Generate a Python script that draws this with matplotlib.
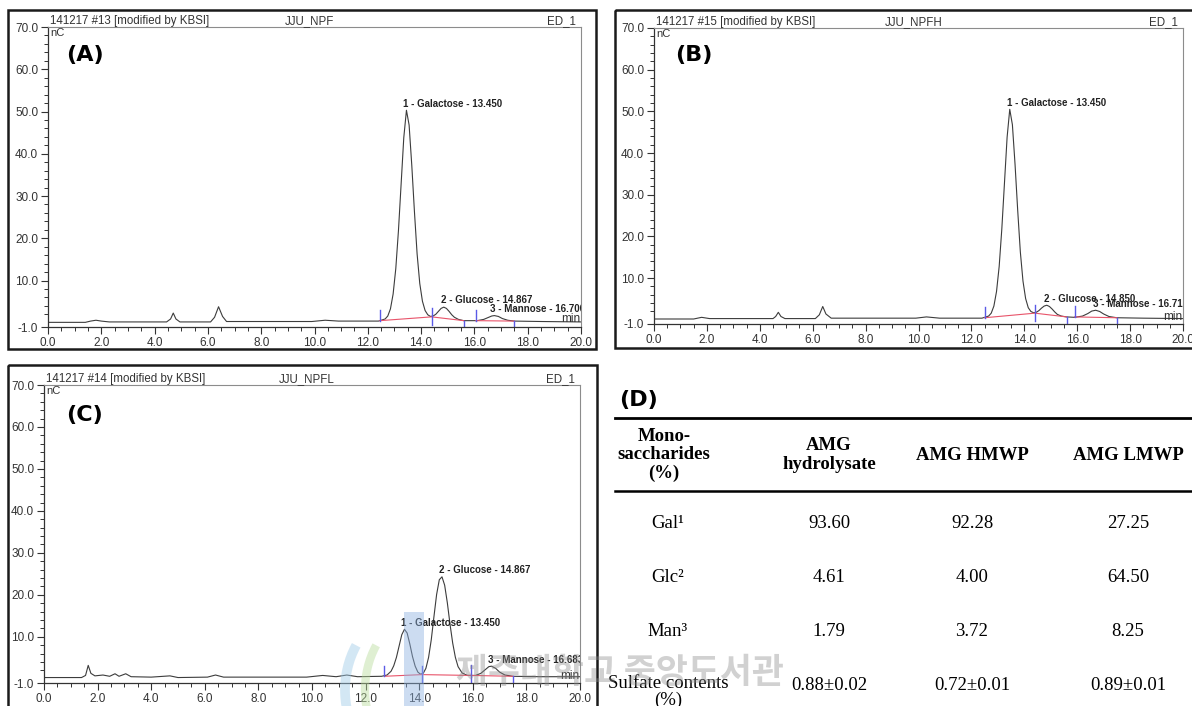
import matplotlib.pyplot as plt
from matplotlib.patches import Rectangle, Arc
from matplotlib.ticker import FixedLocator, MultipleLocator

W, H = 1192, 706

# ---- (A) JJU_NPF trace: retention time (min) / signal (nC) ----
npf_time = [0.0, 1.4, 1.6, 1.8, 2.0, 2.3, 4.45, 4.6, 4.7, 4.8, 4.95, 6.1, 6.25, 6.4,
            6.55, 6.7, 9.9, 10.4, 10.9, 12.4, 12.65, 12.75, 12.85, 12.95, 13.05, 13.15,
            13.25, 13.35, 13.45, 13.55, 13.65, 13.75, 13.85, 13.95, 14.05, 14.15, 14.25,
            14.35, 14.45, 14.55, 14.65, 14.75, 14.85, 14.95, 15.05, 15.15, 15.25, 15.4,
            15.6, 16.1, 16.35, 16.5, 16.65, 16.75, 16.9, 17.05, 17.25, 17.5, 18.5, 20.0]
npf_signal = [0.1, 0.1, 0.4, 0.6, 0.4, 0.2, 0.2, 0.9, 2.3, 0.9, 0.2, 0.2, 1.3, 3.8,
              1.5, 0.3, 0.3, 0.6, 0.4, 0.4, 0.9, 1.6, 3.3, 6.8, 12.8, 21.8,
              32.8, 43.8, 50.3, 46.8, 37.3, 26.3, 16.3, 9.3, 5.1, 2.9, 1.9,
              1.5, 1.6, 2.0, 2.7, 3.4, 3.7, 3.4, 2.7, 1.9, 1.3, 0.8,
              0.5, 0.5, 0.8, 1.2, 1.6, 1.7, 1.5, 1.0, 0.6, 0.4, 0.3, 0.2]
npf_labels = ['1 - Galactose - 13.450', '2 - Glucose - 14.867', '3 - Mannose - 16.700']
npf_peak_time = [13.450, 14.867, 16.700]
npf_peak_height = [50.3, 3.7, 1.7]
npf_baselines = [([12.45, 14.4, 15.6], [0.5, 1.4, 0.5]), ([16.05, 17.5], [0.5, 0.4])]

# ---- (B) JJU_NPFH ----
npfh_time = [0.0, 1.5, 1.8, 2.1, 4.5, 4.6, 4.7, 4.8, 4.95, 6.1, 6.25, 6.38, 6.5, 6.7,
             9.9, 10.3, 10.8, 12.4, 12.65, 12.75, 12.85, 12.95, 13.05, 13.15, 13.25,
             13.35, 13.45, 13.55, 13.65, 13.75, 13.85, 13.95, 14.05, 14.15, 14.25, 14.35,
             14.45, 14.55, 14.65, 14.75, 14.85, 14.95, 15.05, 15.15, 15.25, 15.4, 15.6,
             15.9, 16.2, 16.4, 16.55, 16.7, 16.85, 17.0, 17.2, 17.5, 18.5, 20.0]
npfh_signal = [0.2, 0.2, 0.6, 0.3, 0.3, 0.8, 1.8, 0.8, 0.3, 0.3, 1.2, 3.2, 1.4, 0.4,
               0.4, 0.7, 0.4, 0.4, 0.9, 1.6, 3.3, 6.8, 12.8, 21.8, 32.8,
               43.8, 50.5, 46.8, 37.3, 26.3, 16.3, 9.3, 5.1, 2.9, 2.0, 1.7,
               1.8, 2.2, 2.8, 3.3, 3.5, 3.2, 2.6, 1.9, 1.3, 0.9, 0.7,
               0.6, 0.9, 1.5, 2.1, 2.3, 2.0, 1.4, 0.8, 0.5, 0.4, 0.3]
npfh_labels = ['1 - Galactose - 13.450', '2 - Glucose - 14.850', '3 - Mannose - 16.717']
npfh_peak_time = [13.450, 14.850, 16.717]
npfh_peak_height = [50.5, 3.5, 2.3]
npfh_baselines = [([12.5, 14.4, 15.6], [0.5, 1.6, 0.7]), ([15.9, 17.5], [0.7, 0.5])]

# ---- (C) JJU_NPFL ----
npfl_time = [0.0, 1.4, 1.55, 1.65, 1.75, 1.9, 2.2, 2.45, 2.65, 2.8, 3.05, 3.25, 4.0,
             4.7, 5.0, 6.1, 6.4, 6.7, 9.8, 10.4, 10.9, 11.3, 11.7, 12.6, 12.8, 12.95,
             13.05, 13.15, 13.25, 13.35, 13.45, 13.55, 13.65, 13.75, 13.85, 13.95, 14.05,
             14.15, 14.25, 14.35, 14.45, 14.55, 14.65, 14.75, 14.85, 14.95, 15.05, 15.15,
             15.25, 15.35, 15.45, 15.6, 15.8, 16.1, 16.3, 16.45, 16.6, 16.7, 16.85, 17.0,
             17.2, 17.5, 18.5, 20.0]
npfl_signal = [0.3, 0.3, 0.8, 3.2, 1.3, 0.7, 0.9, 0.6, 1.2, 0.6, 1.2, 0.5, 0.4,
               0.7, 0.3, 0.4, 0.9, 0.4, 0.4, 0.8, 0.5, 0.9, 0.5, 0.6, 0.9, 1.8,
               3.1, 5.1, 7.8, 10.5, 11.8, 10.9, 8.3, 5.3, 3.0, 1.6, 1.1,
               1.3, 2.5, 5.1, 9.3, 14.8, 20.1, 23.6, 24.3, 22.3, 18.1, 13.0,
               8.5, 5.1, 2.9, 1.4, 0.8, 0.8, 1.3, 2.1, 2.9, 3.0, 2.5, 1.6,
               0.9, 0.6, 0.5, 0.5]
npfl_labels = ['1 - Galactose - 13.450', '2 - Glucose - 14.867', '3 - Mannose - 16.683']
npfl_peak_time = [13.450, 14.867, 16.683]
npfl_peak_height = [11.8, 24.3, 3.0]
npfl_baselines = [([12.7, 14.1, 15.95], [0.6, 1.0, 0.8]), ([15.95, 17.5], [0.8, 0.6])]

# ---- (D) table ----
table_header = ['Mono-\nsaccharides\n(%)', 'AMG\nhydrolysate', 'AMG HMWP', 'AMG LMWP']
row_names = ['Gal¹', 'Glc²', 'Man³', 'Sulfate contents\n(%)']
amg_hydrolysate = ['93.60', '4.61', '1.79', '0.88±0.02']
amg_hmwp = ['92.28', '4.00', '3.72', '0.72±0.01']
amg_lmwp = ['27.25', '64.50', '8.25', '0.89±0.01']

y_ticks = [-1, 10, 20, 30, 40, 50, 60, 70]

plt.rcParams['font.family'] = ['Liberation Sans', 'DejaVu Sans']

fig = plt.figure(figsize=(W / 100, H / 100), dpi=100)


def px_axes(left, top, right, bottom):
    return fig.add_axes([left / W, 1 - bottom / H, (right - left) / W, (bottom - top) / H])


def draw_chrom(rect, time, signal, labels, peak_t, peak_h, baselines, run, sample):
    ax = px_axes(*rect)
    ax.plot(time, signal, color='#3c3c3c', lw=0.8)
    for bt, by in baselines:
        ax.plot(bt, by, color='#e8546a', lw=0.8)
        for i, (t, v) in enumerate(zip(bt, by)):
            if i == 0:
                lo, hi = v, v + 2.5
            elif i == len(bt) - 1:
                lo, hi = v - 2.5, v
            else:
                lo, hi = v - 2.0, v + 2.0
            ax.plot([t, t], [lo, hi], color='#5a5ae6', lw=1.0)
    for lab, t, h in zip(labels, peak_t, peak_h):
        ax.text(t - 0.12, h + 0.4, lab, fontsize=7, fontweight='bold',
                ha='left', va='bottom', color='#222222', clip_on=True)

    ax.set_xlim(0, 20)
    ax.set_ylim(-1, 70)
    for s in ['top', 'right']:
        ax.spines[s].set_color('#8c8c8c')
        ax.spines[s].set_linewidth(0.8)
    for s in ['left', 'bottom']:
        ax.spines[s].set_color('#333333')
        ax.spines[s].set_linewidth(0.9)
    ax.set_yticks(y_ticks)
    ax.set_yticklabels(['%.1f' % v for v in y_ticks])
    ax.yaxis.set_minor_locator(FixedLocator([v for v in range(2, 70, 2) if v % 10]))
    ax.xaxis.set_major_locator(MultipleLocator(2))
    ax.xaxis.set_minor_locator(MultipleLocator(0.5))
    ax.xaxis.set_major_formatter('{x:.1f}')
    ax.tick_params(which='major', length=5, width=0.8, labelsize=8.5, pad=2,
                   color='#333333', labelcolor='#333333')
    ax.tick_params(which='minor', length=3, width=0.7, color='#333333')

    ax.text(0.004, 1.0, run, transform=ax.transAxes, ha='left', va='bottom',
            fontsize=8.3, color='#333333')
    ax.text(0.49, 1.0, sample, transform=ax.transAxes, ha='center', va='bottom',
            fontsize=8.3, color='#333333')
    ax.text(0.99, 1.0, 'ED_1', transform=ax.transAxes, ha='right', va='bottom',
            fontsize=8.3, color='#333333')
    ax.text(0.004, 0.997, 'nC', transform=ax.transAxes, ha='left', va='top',
            fontsize=8, color='#333333')
    ax.text(0.998, 0.005, 'min', transform=ax.transAxes, ha='right', va='bottom',
            fontsize=8.5, color='#333333')
    return ax


draw_chrom((48, 27, 581, 327), npf_time, npf_signal, npf_labels, npf_peak_time,
           npf_peak_height, npf_baselines, '141217 #13 [modified by KBSI]', 'JJU_NPF')
draw_chrom((654, 28, 1183, 324), npfh_time, npfh_signal, npfh_labels, npfh_peak_time,
           npfh_peak_height, npfh_baselines, '141217 #15 [modified by KBSI]', 'JJU_NPFH')
draw_chrom((44, 385, 580, 683), npfl_time, npfl_signal, npfl_labels, npfl_peak_time,
           npfl_peak_height, npfl_baselines, '141217 #14 [modified by KBSI]', 'JJU_NPFL')

# overlay in pixel coordinates: frames, panel tags, table, watermark
ov = fig.add_axes([0, 0, 1, 1])
ov.set_xlim(0, W)
ov.set_ylim(H, 0)
ov.axis('off')
ov.patch.set_alpha(0)

for x0, y0, x1, y1 in [(8, 10, 596, 349), (615, 10, 1196, 348), (8, 365, 597, 712)]:
    ov.add_patch(Rectangle((x0, y0), x1 - x0, y1 - y0, fill=False, lw=1.8,
                           edgecolor='#1a1a1a'))

tag_font = dict(fontsize=16, fontweight='bold', family=['DejaVu Sans'],
                va='center', ha='left', color='black')
ov.text(66, 55, '(A)', **tag_font)
ov.text(675, 55, '(B)', **tag_font)
ov.text(66, 415, '(C)', **tag_font)
ov.text(619, 400, '(D)', **tag_font)

# table
col_x = [664, 829, 972, 1128]
name_x = 668
row_y = [523, 577, 631, 685]
serif = ['Liberation Serif', 'DejaVu Serif']
ov.plot([615, W], [418, 418], color='black', lw=2.0)
ov.plot([615, W], [491, 491], color='black', lw=1.8)
for x, txt in zip(col_x, table_header):
    ov.text(x, 455, txt, ha='center', va='center', fontsize=13.5, fontweight='bold',
            family=serif, linespacing=1.08)
for y, name, v1, v2, v3 in zip(row_y, row_names, amg_hydrolysate, amg_hmwp, amg_lmwp):
    if '\n' in name:
        # two-line row label: first line level with the values
        ov.text(name_x, y - 10, name, ha='center', va='top', fontsize=13.5,
                family=serif, linespacing=0.95)
    else:
        ov.text(name_x, y, name, ha='center', va='center', fontsize=13.5, family=serif)
    for x, v in zip(col_x[1:], [v1, v2, v3]):
        ov.text(x, y, v, ha='center', va='center', fontsize=13.5, family=serif)

# faint library watermark
ov.add_patch(Arc((420, 690), 150, 170, theta1=140, theta2=215, lw=7,
                 color='#9fcbe8', alpha=0.45))
ov.add_patch(Arc((440, 690), 150, 170, theta1=140, theta2=215, lw=6,
                 color='#b9dc9c', alpha=0.45))
ov.add_patch(Rectangle((404, 612), 20, 94, color='#8fb2e0', alpha=0.45, lw=0))
ov.text(456, 672, '제주대학교 중앙도서관', ha='left', va='center', fontsize=25,
        fontweight='bold', family=['Noto Sans CJK KR'], color='#8c8c8c', alpha=0.4)

fig.savefig('out.png', dpi=100)
